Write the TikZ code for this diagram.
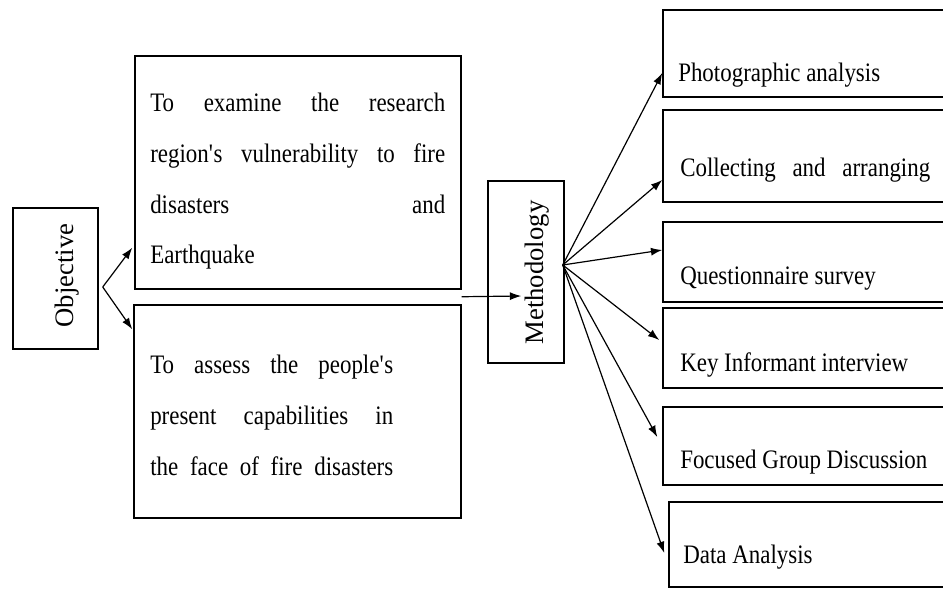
\documentclass[tikz,border=0pt]{standalone}
\usepackage{fontspec}
\setmainfont[FakeStretch=0.86]{Liberation Serif}
\newfontfamily\uprightserif{Liberation Serif}
\usetikzlibrary{arrows.meta,positioning,calc}

\tikzset{
  boxframe/.style={draw=black,line width=1.1pt,inner sep=0pt},
  bodytext/.style={inner sep=0pt,anchor=north west,align=left,font=\fontsize{20}{38}\selectfont},
  itemtext/.style={inner sep=0pt,anchor=base west,font=\fontsize{20}{24}\selectfont},
  sidetext/.style={inner sep=0pt,rotate=90,font=\uprightserif\fontsize{20}{24}\selectfont},
  link/.style={line width=0.9pt,-{Latex[length=8.5pt,width=6pt]}}
}
\newcommand{\fillline}[2]{\makebox[#1][s]{\spaceskip=0pt\xspaceskip=0pt #2}\\}
\newcommand{\examw}{221.25pt}
\newcommand{\assessw}{182.25pt}

\begin{document}
\begin{tikzpicture}[x=0.75pt,y=-0.75pt]
\useasboundingbox (0,0) rectangle (943,589);
\clip (0,0) rectangle (943,589);

\node[boxframe,minimum width=63.75pt,minimum height=105.75pt] (obj) at (55.5,278.5) {};
\node[sidetext] (objlabel) at (67,275.5) {Objective};

\node[boxframe,minimum width=244.5pt,minimum height=174.75pt] (exam) at (298,172.5) {};
\node[bodytext,text width=\examw] (examtext) at (150,93) {\fillline{\examw}{To examine the research}\fillline{\examw}{region\textquotesingle s vulnerability to fire}\fillline{\examw}{disasters and}Earthquake};

\node[boxframe,minimum width=245.25pt,minimum height=159.75pt] (assess) at (297.5,411.5) {};
\node[bodytext,text width=\assessw] (assesstext) at (150,355) {\fillline{\assessw}{To assess the people\textquotesingle s}\fillline{\assessw}{present capabilities in}\fillline{\assessw}{the face of fire disasters}};

\node[boxframe,minimum width=57pt,minimum height=136.5pt] (meth) at (526,272) {};
\node[sidetext] (methlabel) at (537,272.5) {Methodology};

\node[boxframe,minimum width=222.75pt,minimum height=65.25pt] (photo) at (811.5,53.5) {};
\node[boxframe,minimum width=222.75pt,minimum height=69pt] (collect) at (811.5,156) {};
\node[boxframe,minimum width=222.75pt,minimum height=60pt] (quest) at (811.5,262) {};
\node[boxframe,minimum width=222.75pt,minimum height=60pt] (key) at (811.5,348) {};
\node[boxframe,minimum width=222.75pt,minimum height=58.5pt] (focus) at (811.5,446) {};
\node[boxframe,minimum width=218.25pt,minimum height=63.75pt] (data) at (814.5,544.5) {};

\node[itemtext] (phototext) at (678,81) {Photographic analysis};
\node[itemtext] (collecttext) at (680,176) {\makebox[187.5pt][s]{Collecting and arranging}};
\node[itemtext] (questtext) at (680,284) {Questionnaire survey};
\node[itemtext] (keytext) at (680,371) {Key Informant interview};
\node[itemtext] (focustext) at (680,468) {Focused Group Discussion};
\node[itemtext] (datatext) at (683,563) {Data Analysis};

\coordinate (objfork) at ($(obj.east)+(4,8.5)$);
\draw[link] (objfork) -- ($(exam.south west)+(-2,-42)$);
\draw[link] (objfork) -- ($(assess.north west)+(-1,25)$);

\coordinate (gap) at ($(exam.south east)+(0,7)$);
\coordinate (methin) at ($(meth.west)+(34,24)$);
\draw[link] (gap) -- (methin);

\coordinate (fan) at ($(meth.east)+(-2,-7)$);
\foreach \t/\dx/\dy in {photo/0/19.5,collect/0/24,quest/0/-12,key/-3/-8,focus/-5/-9,data/-4/8.5}
  \draw[link] (fan) -- ($(\t.west)+(\dx,\dy)$);
\end{tikzpicture}
\end{document}
